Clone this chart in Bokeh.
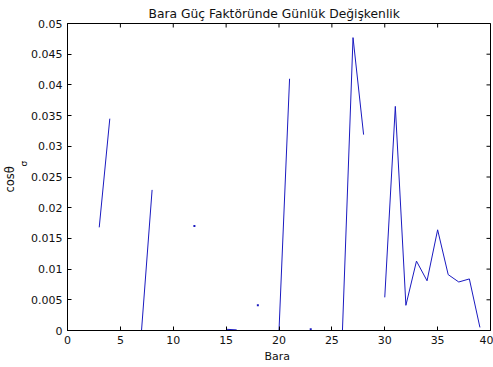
import math
from bokeh.plotting import figure
from bokeh.models import FixedTicker, Title, Range1d, ColumnDataSource
from bokeh.embed import file_html
from bokeh.resources import INLINE

nan = float("nan")

# Bus number (Bara) and daily variation of power factor
bara = list(range(1, 41))
cos_sigma = [nan, nan, 0.0168, 0.0345, nan, nan, 0.0, 0.0229, nan, nan,
             nan, 0.0170, nan, nan, 0.0002, 0.0001, nan, 0.0041, nan, 0.0,
             0.0410, nan, 0.0002, nan, nan, 0.0, 0.0477, 0.0319, nan, 0.0054,
             0.0365, 0.0041, 0.0113, 0.0081, 0.0164, 0.0091, 0.0079, 0.0084, 0.0005, nan]

x_ticks = [0, 5, 10, 15, 20, 25, 30, 35, 40]
x_tick_labels = ["0", "5", "10", "15", "20", "25", "30", "35", "40"]
y_ticks = [0, 0.005, 0.01, 0.015, 0.02, 0.025, 0.03, 0.035, 0.04, 0.045, 0.05]
y_tick_labels = ["0", "0.005", "0.01", "0.015", "0.02", "0.025", "0.03", "0.035", "0.04", "0.045", "0.05"]

title_text = "Bara Güç Faktöründe Günlük Değişkenlik"
x_label = "Bara"
y_label_main = "cosθ"
y_label_sub = "σ"

x_min, x_max = x_ticks[0], x_ticks[-1]
y_min, y_max = y_ticks[0], y_ticks[-1]

# isolated points (neighbours missing) are drawn as single dots
def isnan(v):
    return v != v

iso_x, iso_y = [], []
for i, v in enumerate(cos_sigma):
    if isnan(v):
        continue
    left = cos_sigma[i - 1] if i > 0 else nan
    right = cos_sigma[i + 1] if i < len(cos_sigma) - 1 else nan
    if isnan(left) and isnan(right):
        iso_x.append(bara[i])
        iso_y.append(v)

FONT = "DejaVu Sans"
TEXT_COLOR = "#111111"
LINE_COLOR = "#1a1ac0"

p = figure(width=493, height=367, x_range=Range1d(x_min, x_max), y_range=Range1d(y_min, y_max),
           output_backend="svg", toolbar_location=None,
           min_border_left=66, min_border_right=3, min_border_top=23, min_border_bottom=37,
           background_fill_color="white", border_fill_color="white")
p.title.text = title_text
p.title.align = "left"
p.title.offset = 81
p.title.text_font = FONT
p.title.text_font_size = "12.3px"
p.title.text_font_style = "normal"
p.title.text_color = TEXT_COLOR
p.title.standoff = 6

p.xgrid.visible = False
p.ygrid.visible = False
p.outline_line_color = "black"

def style_axis(ax, ticks, labels):
    ax.ticker = FixedTicker(ticks=ticks)
    ax.major_label_overrides = {t: l for t, l in zip(ticks, labels)}
    ax.major_tick_in = 4
    ax.major_tick_out = 0
    ax.minor_tick_line_color = None
    ax.axis_line_color = "black"
    ax.major_tick_line_color = "black"
    ax.major_label_text_font = FONT
    ax.major_label_text_color = TEXT_COLOR
    ax.major_label_text_font_size = "11px"
    ax.major_label_standoff = 5

style_axis(p.xaxis[0], x_ticks, x_tick_labels)
style_axis(p.yaxis[0], y_ticks, y_tick_labels)

# inward tick marks on the top and right edges of the box (clipped to the frame)
p.scatter(x_ticks, [y_max] * len(x_ticks), marker="dash", angle=math.pi / 2, size=8,
          line_color="black", line_width=1)
p.scatter([x_max] * len(y_ticks), y_ticks, marker="dash", size=8,
          line_color="black", line_width=1)

src = ColumnDataSource(dict(x=bara, y=cos_sigma))
p.line("x", "y", source=src, line_color=LINE_COLOR, line_width=1)
p.scatter(iso_x, iso_y, marker="square", size=2, fill_color=LINE_COLOR, line_color=None)

# axis labels as side-panel titles
def side_title(text, size, offset, standoff):
    return Title(text=text, align="left", offset=offset, standoff=standoff,
                 text_font=FONT, text_font_size=size, text_font_style="normal",
                 text_color=TEXT_COLOR)

p.add_layout(side_title(x_label, "11px", 197, 2), "below")
p.add_layout(side_title(y_label_sub, "9px", 164, 0), "left")
p.add_layout(side_title(y_label_main, "11.5px", 138, 0), "left")

open("out.html", "w").write(file_html(p, INLINE))
